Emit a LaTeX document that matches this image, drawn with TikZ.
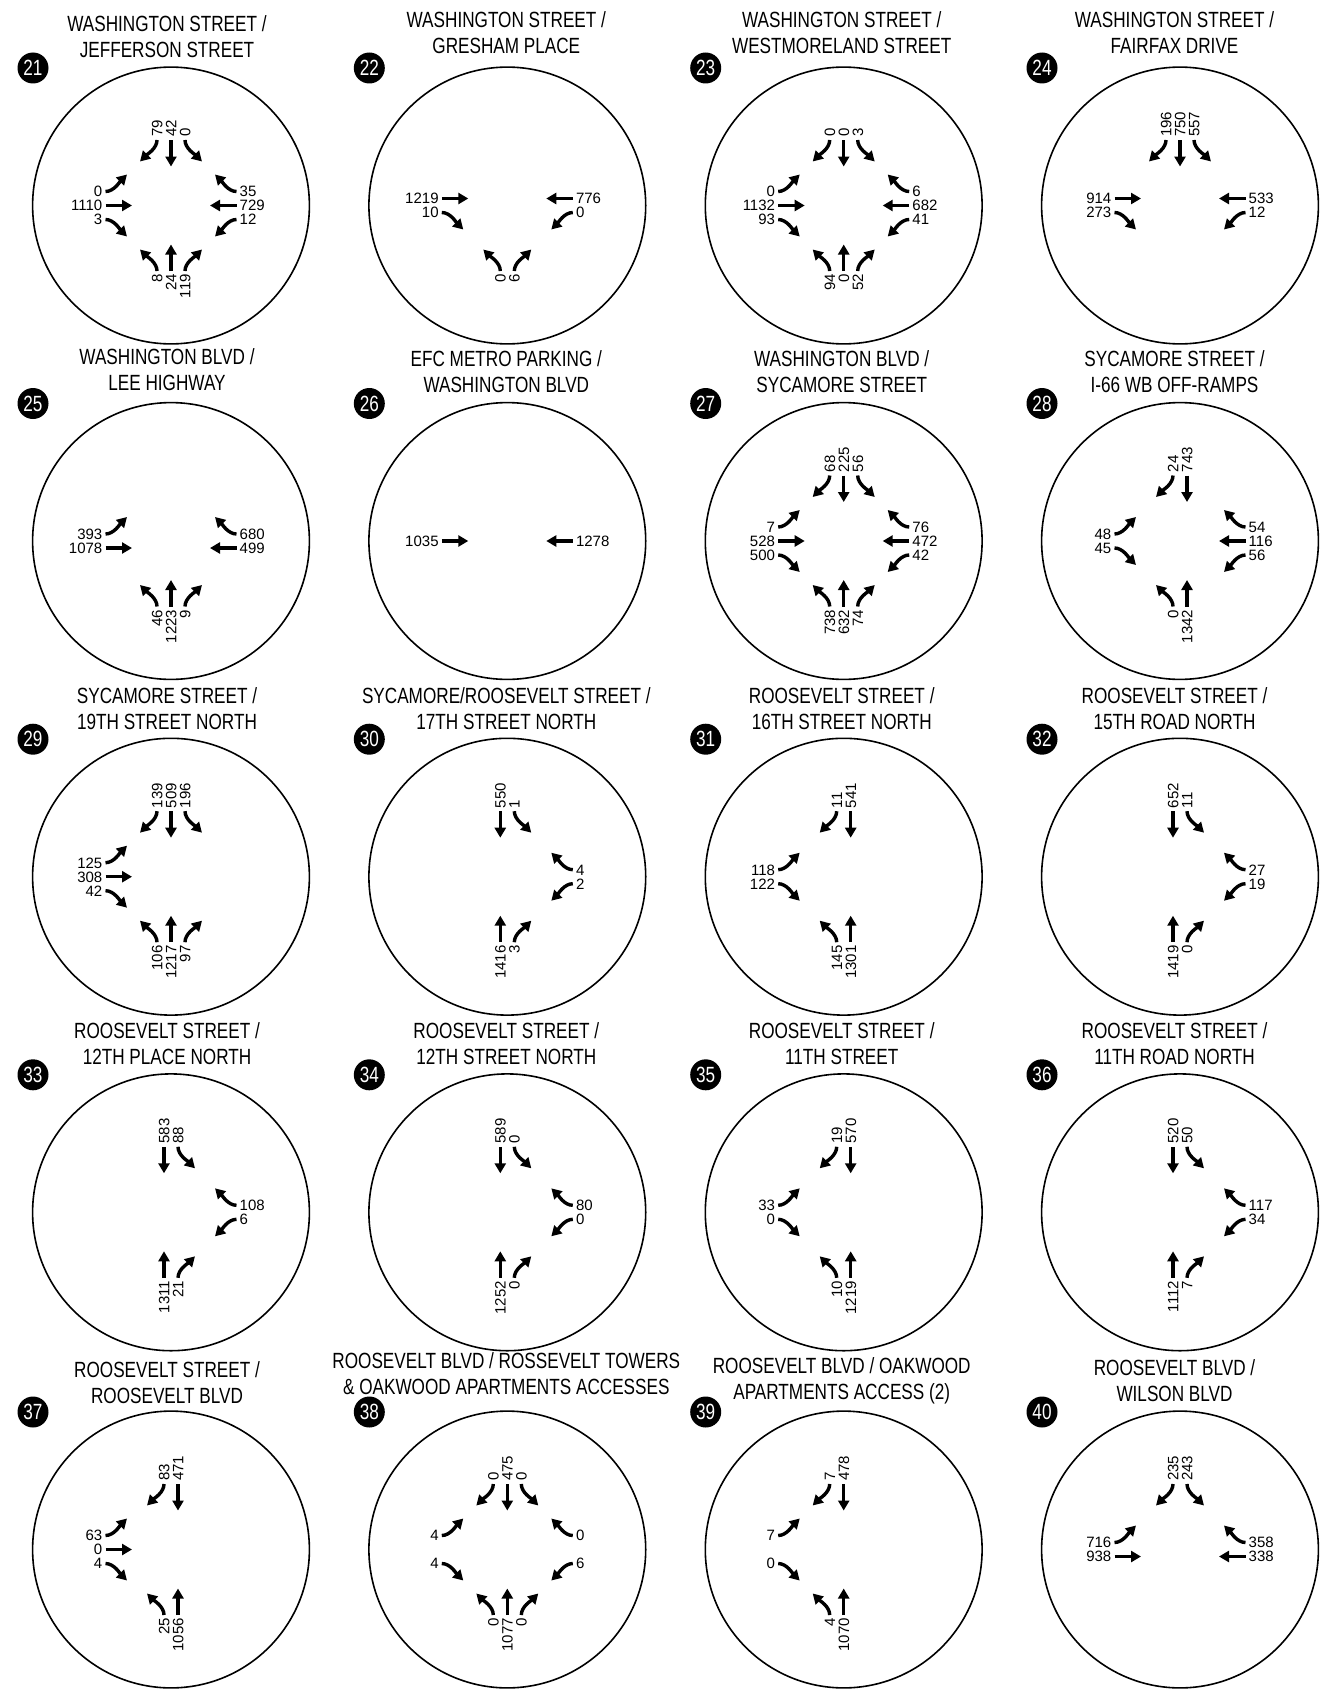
\documentclass[tikz,border=0pt]{standalone}
\usepackage{fontspec}
\setmainfont{Liberation Sans}
\newfontfamily\ttlfont[FakeStretch=0.78]{Liberation Sans}
\usetikzlibrary{arrows.meta}
\tikzset{
 ring/.style={line width=1.6pt},
 arr/.style={line width=3.4pt,-{Triangle[length=10pt,width=11pt]}},
 lab/.style={inner sep=0pt, font=\fontsize{15}{15}\selectfont, text height=10.7pt, text depth=0pt},
 ttl/.style={inner sep=0pt, anchor=base, font=\ttlfont\fontsize{22}{26}\selectfont},
 badge/.style={circle, fill=black, inner sep=0pt, minimum size=31pt, text=white, font=\ttlfont\fontsize{22}{22}\selectfont},
}
\newif\ifwide
\newcount\nar
\def\pid{}\def\pcx{0}\def\pcy{0}
\newcommand\panel[7]{%
 \def\pid{#1}\def\pcx{#2}\def\pcy{#3}%
 \begin{scope}[shift={(#2,-#3)}]
  \draw[ring] (0,0) circle (138.4);
  \node[badge] (badge#1) at (-138,137.5) {#1};
  \node[ttl] (title#1a) at (#7,#6) {#4};
  \node[ttl] (title#1b) at (#7,#6-26) {#5};
 \end{scope}}
\newcommand\appr[6]{%
 \nar=0
 \if\relax\detokenize{#3}\relax\else\advance\nar by 1 \fi
 \if\relax\detokenize{#4}\relax\else\advance\nar by 1 \fi
 \if\relax\detokenize{#5}\relax\else\advance\nar by 1 \fi
 \def\xR{-14}\def\xT{0}\def\xL{14}%
 \ifwide\else\ifnum\nar=2
   \def\xR{-7}\def\xL{7}%
   \if\relax\detokenize{#3}\relax\def\xT{-7}\fi
   \if\relax\detokenize{#5}\relax\def\xT{7}\fi
 \fi\fi
 \begin{scope}[shift={(\pcx,-\pcy)},rotate=#1]
  \if\relax\detokenize{#3}\relax\else
   \draw[arr] (\xR,65.5) .. controls (\xR,57) and ({\xR-10},51) .. ({\xR-17},44);
   \node[lab,#2] (\pid#6R) at (\xR,68.5) {#3};
  \fi
  \if\relax\detokenize{#4}\relax\else
   \draw[arr] (\xT,65.5) -- (\xT,39);
   \node[lab,#2] (\pid#6T) at (\xT,68.5) {#4};
  \fi
  \if\relax\detokenize{#5}\relax\else
   \draw[arr] (\xL,65.5) .. controls (\xL,57) and ({\xL+10},51) .. ({\xL+17},44);
   \node[lab,#2] (\pid#6L) at (\xL,68.5) {#5};
  \fi
 \end{scope}}
\newcommand\apN[3]{\appr{0}{rotate=90,anchor=west}{#1}{#2}{#3}{N}}
\newcommand\apS[3]{\appr{180}{rotate=90,anchor=east}{#1}{#2}{#3}{S}}
\newcommand\apW[3]{\appr{90}{anchor=east}{#1}{#2}{#3}{W}}
\newcommand\apE[3]{\appr{270}{anchor=west}{#1}{#2}{#3}{E}}
\begin{document}
\begin{tikzpicture}[x=1pt,y=1pt]
\useasboundingbox[fill=white] (0,0) rectangle (1340,-1691);
% row 1
\panel{21}{171}{205.5}{WASHINGTON STREET /}{JEFFERSON STREET}{174}{-4}
\apN{79}{42}{0}\apW{3}{1110}{0}\apE{35}{729}{12}\apS{119}{24}{8}
\panel{22}{507.3}{205.5}{WASHINGTON STREET /}{GRESHAM PLACE}{178}{-1}
\apW{10}{1219}{}\apE{}{776}{0}\apS{6}{}{0}
\panel{23}{843.7}{205.5}{WASHINGTON STREET /}{WESTMORELAND STREET}{178}{-2}
\apN{0}{0}{3}\apW{93}{1132}{0}\apE{6}{682}{41}\apS{52}{0}{94}
\panel{24}{1180}{205.5}{WASHINGTON STREET /}{FAIRFAX DRIVE}{178}{-5.5}
\apN{196}{750}{557}\apW{273}{914}{}\apE{}{533}{12}
% row 2
\panel{25}{171}{541}{WASHINGTON BLVD /}{LEE HIGHWAY}{176.5}{-4}
\apW{}{1078}{393}\apE{680}{499}{}\apS{9}{1223}{46}
\panel{26}{507.3}{541}{EFC METRO PARKING /}{WASHINGTON BLVD}{174.5}{-1}
\apW{}{1035}{}\apE{}{1278}{}
\panel{27}{843.7}{541}{WASHINGTON BLVD /}{SYCAMORE STREET}{174.5}{-2}
\apN{68}{225}{56}\apW{500}{528}{7}\apE{76}{472}{42}\apS{74}{632}{738}
\panel{28}{1180}{541}{SYCAMORE STREET /}{I-66 WB OFF-RAMPS}{174.5}{-5.5}
\apN{24}{743}{}\apW{45}{}{48}\apE{54}{116}{56}\apS{}{1342}{0}
% row 3
\panel{29}{171}{876.7}{SYCAMORE STREET /}{19TH STREET NORTH}{173.5}{-4}
\apN{139}{509}{196}\apW{42}{308}{125}\apS{97}{1217}{106}
\panel{30}{507.3}{876.7}{SYCAMORE/ROOSEVELT STREET /}{17TH STREET NORTH}{173.5}{-1}
\apN{}{550}{1}\apE{4}{}{2}\apS{3}{1416}{}
\panel{31}{843.7}{876.7}{ROOSEVELT STREET /}{16TH STREET NORTH}{173.5}{-2}
\apN{11}{541}{}\apW{122}{}{118}\apS{}{1301}{145}
\panel{32}{1180}{876.7}{ROOSEVELT STREET /}{15TH ROAD NORTH}{173.5}{-5.5}
\apN{}{652}{11}\apE{27}{}{19}\apS{0}{1419}{}
% row 4
\panel{33}{171}{1212.3}{ROOSEVELT STREET /}{12TH PLACE NORTH}{174}{-4}
\apN{}{583}{88}\apE{108}{}{6}\apS{21}{1311}{}
\panel{34}{507.3}{1212.3}{ROOSEVELT STREET /}{12TH STREET NORTH}{174}{-1}
\apN{}{589}{0}\apE{80}{}{0}\apS{0}{1252}{}
\panel{35}{843.7}{1212.3}{ROOSEVELT STREET /}{11TH STREET}{174}{-2}
\apN{19}{570}{}\apW{0}{}{33}\apS{}{1219}{10}
\panel{36}{1180}{1212.3}{ROOSEVELT STREET /}{11TH ROAD NORTH}{174}{-5.5}
\apN{}{520}{50}\apE{117}{}{34}\apS{7}{1112}{}
% row 5
\panel{37}{171}{1549.5}{ROOSEVELT STREET /}{ROOSEVELT BLVD}{172.5}{-4}
\apN{83}{471}{}\apW{4}{0}{63}\apS{}{1056}{25}
\panel{38}{507.3}{1549.5}{ROOSEVELT BLVD / ROSSEVELT TOWERS}{\&{} OAKWOOD APARTMENTS ACCESSES}{181}{-1}
\widetrue
\apN{0}{475}{0}\apW{4}{}{4}\apE{0}{}{6}\apS{0}{1077}{0}
\panel{39}{843.7}{1549.5}{ROOSEVELT BLVD / OAKWOOD}{APARTMENTS ACCESS (2)}{176.5}{-2}
\apN{7}{478}{}\apW{0}{}{7}\apS{}{1070}{4}
\widefalse
\panel{40}{1180}{1549.5}{ROOSEVELT BLVD /}{WILSON BLVD}{174.5}{-5.5}
\apN{235}{}{243}\apW{}{938}{716}\apE{358}{338}{}
\end{tikzpicture}
\end{document}
